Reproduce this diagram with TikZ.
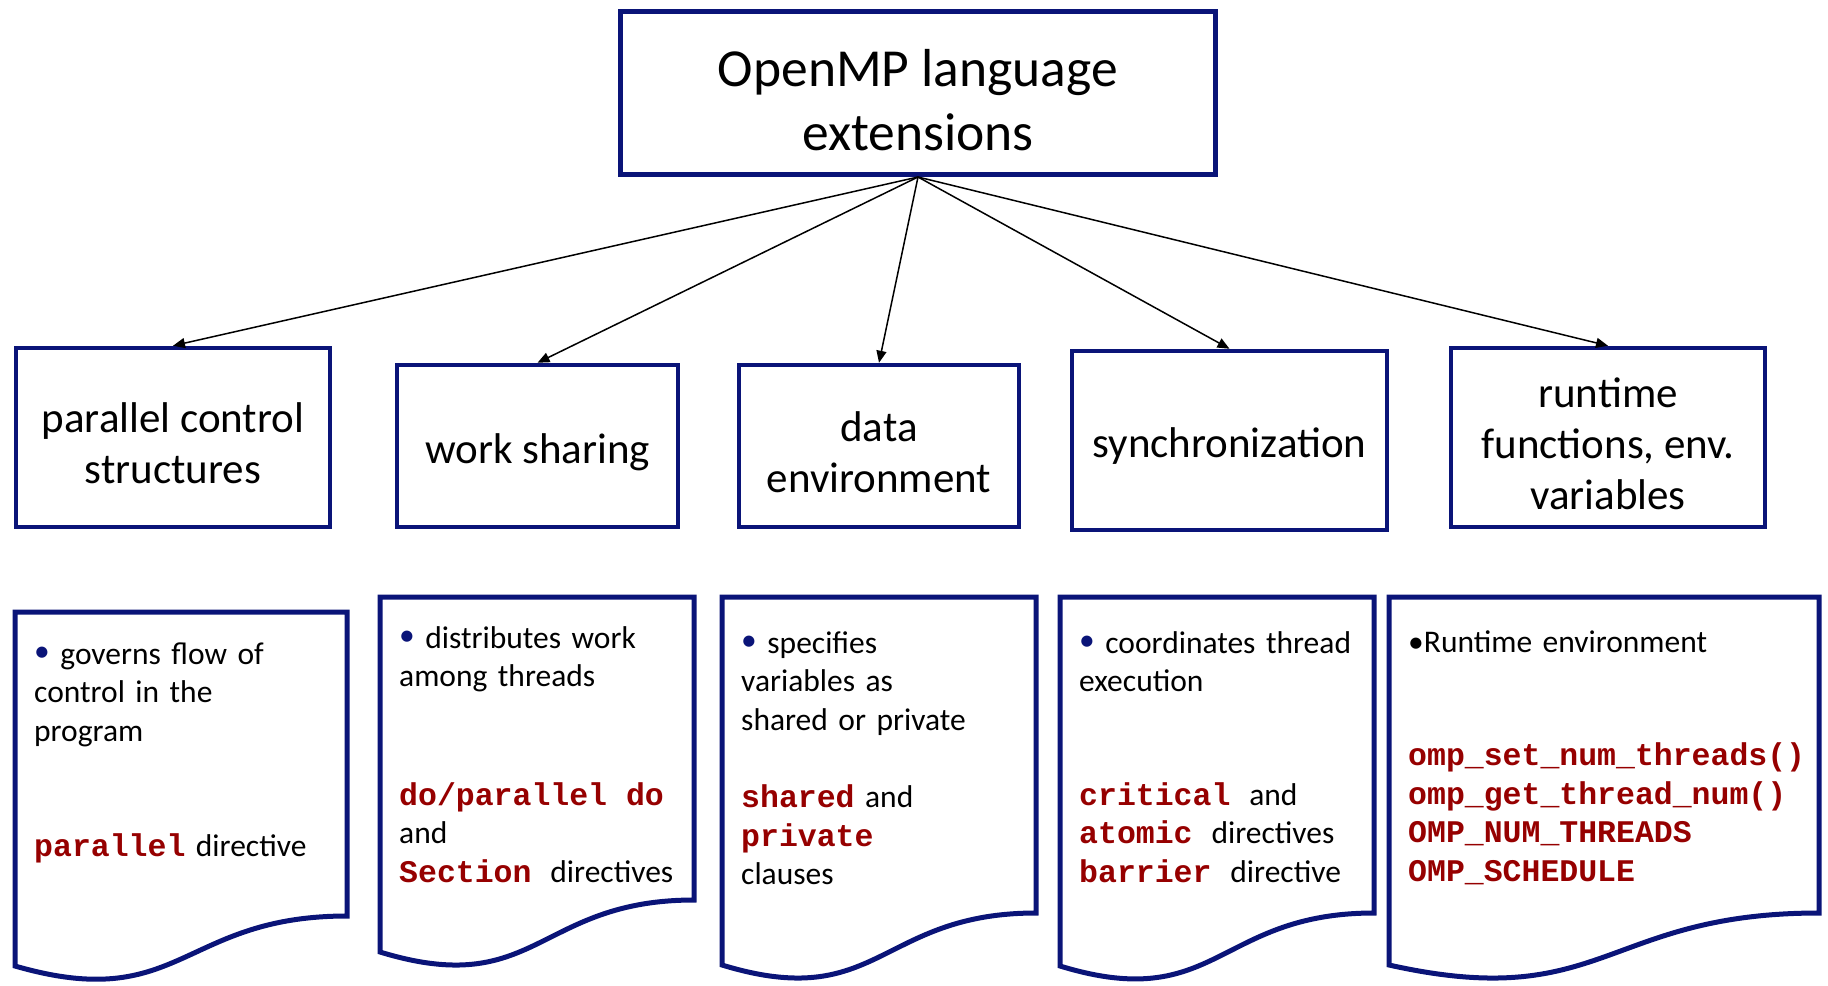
\documentclass[tikz,border=0pt]{standalone}
\usepackage{fontspec}
\setmainfont{Carlito}
\newfontfamily\codefamily{Liberation Mono}
\usetikzlibrary{arrows.meta}
\definecolor{navy}{RGB}{10,20,120}
\definecolor{codered}{RGB}{150,0,0}
% bold monospaced keyword, spaces as wide as a character cell
\newcommand\code[1]{{\codefamily\bfseries\spaceskip=0.6em\relax\color{codered}#1}}
\newcommand\blt{\textcolor{navy}{\raisebox{2.5pt}{•}}}
% taller first line, so box titles sit a little lower
\newcommand\toppad{\rule{0pt}{0.97em}}
% page-with-wavy-bottom outline: left, top, right, right bottom, left bottom
\newcommand\docpage[5]{%
  \draw[docframe] (#1,#2) -- (#3,#2) -- (#3,#4)
    .. controls ({#1+0.5*(#3-#1)},#4) and ({#1+0.5*(#3-#1)},{#5+48}) .. (#1,#5) -- cycle;}
\begin{document}
\begin{tikzpicture}[x=1pt,y=-1pt,
  hub/.style={draw=navy, line width=5, inner sep=0, minimum width=595, minimum height=163,
    align=center, font=\fontsize{53.5}{64}\selectfont},
  catbox/.style={draw=navy, line width=4.5, inner sep=0, align=center,
    font=\fontsize{43}{51}\selectfont},
  docframe/.style={draw=navy, line width=5, line join=miter},
  note/.style={anchor=base west, inner sep=0, text width=430, align=left,
    font=\fontsize{31.5}{38.5}\selectfont},
  conn/.style={draw=black, line width=1.5, -{Triangle[length=12,width=10]}}]
\path[use as bounding box] (0,0) rectangle (1828,985);

% root
\node[hub] (root) at (918,93) {\toppad OpenMP language\\extensions};

% categories
\node[catbox, minimum width=314, minimum height=179] (par)  at (173,437.5) {\toppad parallel control\\structures};
\node[catbox, minimum width=281, minimum height=162] (work) at (537.5,446) {\toppad work sharing};
\node[catbox, minimum width=280, minimum height=162] (data) at (879,446) {\toppad data\\environment};
\node[catbox, minimum width=315, minimum height=179] (sync) at (1229.5,440.5) {\toppad synchronization};
\node[catbox, minimum width=314, minimum height=179] (rt)   at (1608,437.5) {\toppad runtime\\functions, env.\\variables};

\draw[conn] (root.south) -- (par.north);
\draw[conn] (root.south) -- (work.north);
\draw[conn] (root.south) -- (data.north);
\draw[conn] (root.south) -- (sync.north);
\draw[conn] (root.south) -- (rt.north);

% description pages
\docpage{15}{612}{347}{916}{966}
\docpage{380}{597}{694}{900}{952}
\docpage{722}{597}{1036}{913}{965}
\docpage{1060}{597}{1374}{913}{966}
\docpage{1389}{597}{1819}{913}{965}

\node[note] (d1) at (34,664) {\blt{} governs flow of\\control in the\\program\\[77pt]\code{parallel} directive};
\node[note] (d2) at (399,648) {\blt{} distributes work\\among threads\\[80pt]\code{do/parallel do}\\and\\\code{Section }directives};
\node[note] (d3) at (741,653) {\blt{} specifies\\variables as\\shared or private\\[39pt]\code{shared} and\\\code{private}\\clauses};
\node[note] (d4) at (1079,653) {\blt{} coordinates thread\\execution\\[75pt]\code{critical }and\\\code{atomic }directives\\\code{barrier }directive};
\node[note] (d5) at (1408,652) {•Runtime environment\\[75pt]\code{omp\_set\_num\_threads()}\\\code{omp\_get\_thread\_num()}\\\code{OMP\_NUM\_THREADS}\\\code{OMP\_SCHEDULE}};
\end{tikzpicture}
\end{document}
